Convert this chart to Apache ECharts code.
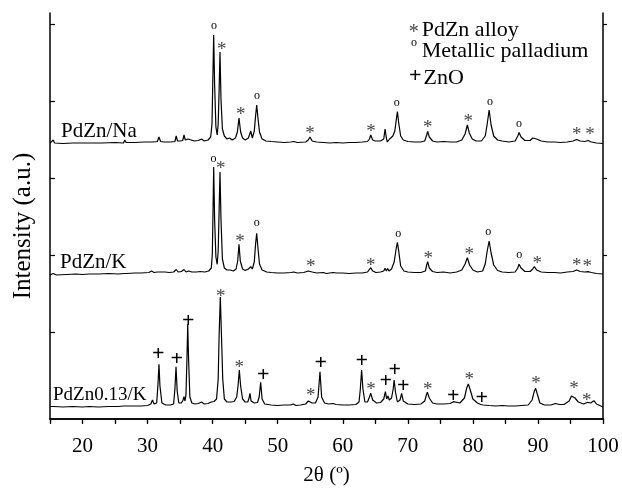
<!DOCTYPE html>
<html>
<head>
<meta charset="utf-8">
<script src="https://cdn.jsdelivr.net/npm/echarts@6/dist/echarts.min.js"></script>
<style>
html,body{margin:0;padding:0;background:#fff;}
#chart{width:622px;height:496px;}
</style>
</head>
<body>
<div id="chart"></div>
<script>
// ---- data (2θ in degrees, intensity in a.u., traces stacked with offsets) ----
const xTicks = [20, 30, 40, 50, 60, 70, 80, 90, 100];

const traceNa = [
[15.0,276],[15.3,276],[15.5,279],[15.7,276],[17,275.5],[18.5,276],[20.5,276],[20.8,278],[21.1,276],[23,276],[25,276.5],[26.3,276],[26.5,279],[26.7,276.5],[28,276.5],[29.5,277],[30.4,277],[30.6,279],[30.8,277],[31.5,277.5],[31.75,282],[32.0,277.5],[32.6,277],[33.5,277],[34.2,277.5],[34.4,283],[34.6,278],[35.0,278],[35.4,278.5],[35.6,284],[35.8,279],[36.2,280],[36.5,278],[37.2,278],[37.8,278.5],[38.3,280],[38.7,278],[39.3,279],[39.7,282],
[39.9,295],[40.0,330],[40.16,384],[40.3,335],[40.5,292],[40.7,284],
[40.85,295],[41.0,330],[41.13,367],[41.28,320],[41.5,290],[41.8,283],[42.2,280],[42.6,281],[43.0,279],[43.5,281],[43.8,287],[44.05,301],[44.3,287],[44.6,281],[45.0,279],[45.5,281],[45.85,288],[46.1,281],[46.4,288],[46.6,303],[46.77,314],[46.95,302],[47.2,287],[47.6,280],[48.2,278],[49,277.5],[50,277],[51,276.5],[52,277],[52.5,277.5],[53,276.5],[54.3,277],[54.7,279],[54.96,282],[55.3,278],[56,277],[57,276.5],[58,276],[59,276.5],[60,276],[61,276.5],[62,276.5],[63,277],[63.8,277.5],[64.1,280],[64.3,284],[64.6,279],[65,278],[65.8,278],[66.3,280],[66.5,290],[66.7,281],[66.85,277],[67.2,280],[67.7,283],[68.0,288],[68.2,298],[68.4,307.5],[68.6,296],[68.9,283],[69.3,279],[70,277.5],[71,277],[72,277],[72.6,278],[72.9,284],[73.05,287.5],[73.3,282],[73.8,278],[74.5,277],[75.5,277.5],[76.5,277],[77.5,277],[78.3,279],[78.8,285],[79.15,294],[79.45,286],[79.9,280],[80.5,278],[81.3,278],[81.9,283],[82.2,295],[82.5,309],[82.8,294],[83.2,283],[83.8,279],[84.5,278],[85.5,277],[86.5,278],[86.9,283],[87.1,286.5],[87.4,282],[88,278.5],[88.8,278.5],[89.2,281],[89.45,283],[89.8,280],[90.5,278],[91.5,277],[92.5,277],[93.5,276.5],[94.5,277],[95.4,278],[95.95,279.5],[96.5,278],[97.2,277.5],[97.7,278.5],[98.2,277],[99,276],[100,275.5]
];

const traceK = [
[15,144],[15.5,145.5],[16,144],[17.5,144.5],[19,145],[20,144.5],[21,145],[22.5,145],[24,145.5],[25.5,145],[26.4,145.5],[26.6,147],[26.8,145.5],[28,146],[29,146],[30.2,146.5],[30.6,148],[31,146.5],[31.5,147],[31.8,149],[32.1,147],[32.7,147],[33.3,146.5],[34,147],[34.4,149.5],[34.7,147],[35.2,147.5],[35.6,149.5],[35.9,147],[36.3,148],[36.8,147],[37.5,147],[38.1,147.5],[38.4,149],[38.8,147],[39.4,148],[39.8,151],
[39.95,165],[40.05,205],[40.16,252],[40.3,200],[40.5,162],[40.7,154.7],[40.85,168],[41.0,210],[41.13,247],[41.28,200],[41.5,160],[41.8,151],[42.2,149],[42.7,149],[43.2,148],[43.6,150],[43.85,158],[44.05,174.7],[44.25,158],[44.6,150],[45.0,148.5],[45.5,150],[45.85,152.3],[46.1,150],[46.4,157],[46.6,175],[46.77,185.7],[46.95,172],[47.2,155],[47.6,149],[48.3,147],[49,146.5],[50,146],[51,146],[52,146.5],[52.5,147],[53,146],[54,146.5],[54.7,148],[54.96,150],[55.3,147],[56,146],[57,146.5],[57.5,145.5],[58.5,146.5],[59,146],[60,146],[61,145.5],[62,146],[63,146],[63.8,147],[64.1,149],[64.3,151.3],[64.6,148],[65.1,146.5],[65.8,147],[66.3,148],[66.5,150.7],[66.7,148],[66.9,150.5],[67.1,148],[67.5,150],[67.9,157],[68.2,170],[68.4,176.7],[68.6,168],[68.9,153],[69.4,148],[70,147],[71,146.5],[72,146.5],[72.7,148],[72.9,154],[73.05,157.3],[73.3,151],[73.8,147.5],[74.5,146.5],[75.5,147],[76.5,146],[77.5,147],[78.3,149],[78.8,155],[79.15,161.3],[79.5,154],[80,149],[80.7,147],[81.5,148],[81.9,155],[82.2,168],[82.5,178],[82.8,166],[83.2,154],[83.8,148.5],[84.5,147],[85.5,146.5],[86.5,147],[86.9,151],[87.1,154.7],[87.4,151],[88,147.5],[88.8,147.5],[89.2,150],[89.45,152.3],[89.8,149],[90.5,147],[91.5,146.5],[92.5,146.5],[93.5,146],[94.5,147],[95.4,147.5],[95.95,149],[96.5,147.5],[97.2,147],[97.7,147.3],[98.2,146.5],[99,145.5],[100,145]
];

const trace013K = [
[15,12.5],[15.3,13.5],[15.6,12.5],[17,12],[18.5,12.5],[20,12],[21,12.5],[22.5,12],[24,12.5],[25.5,12.5],[26.3,13],[26.6,15],[26.9,13],[28,13],[29,13],[30,13.5],[30.5,15],[30.75,19],[31.0,15],[31.4,16],[31.6,35],[31.75,54.7],[31.9,33],[32.2,16],[32.8,14],[33.5,14],[34.0,15],[34.2,30],[34.37,52.3],[34.55,28],[34.8,16],[35.2,16],[35.45,19],[35.6,22.3],[35.75,18],[35.9,24],[36.05,60],[36.17,94.7],[36.3,60],[36.5,22],[36.8,16],[37.3,15],[37.8,15.5],[38.3,17],[38.7,15],[39.3,15.5],[39.8,17],[40.2,17.5],[40.6,20],[40.85,40],[41.0,85],[41.18,122],[41.35,85],[41.55,40],[41.8,20],[42.2,17],[42.8,17],[43.3,17.5],[43.7,22],[43.9,33],[44.1,49],[44.3,33],[44.6,20],[45.0,17],[45.4,17],[45.6,21],[45.74,25.7],[45.9,18],[46.4,16],[46.9,16.5],[47.15,22],[47.38,36.7],[47.6,20],[48,15],[49,14],[50,13.5],[51,14],[52,14],[52.4,15],[52.8,13.5],[53.5,14],[54.3,15],[54.7,18],[54.96,20],[55.3,16],[55.8,16],[56.2,22],[56.5,47.3],[56.75,22],[57.2,16],[57.8,15],[58.5,15.5],[59,14.5],[60,14],[61,14],[62,14.5],[62.5,17],[62.7,30],[62.9,49],[63.1,30],[63.4,17],[63.8,17],[64.1,22],[64.3,25.7],[64.6,19],[65.2,16],[65.8,16.5],[66.3,20],[66.55,27.3],[66.75,20],[66.95,23],[67.15,19],[67.5,21],[67.75,30],[67.9,39],[68.1,27],[68.4,17],[68.8,19],[69.05,25.7],[69.3,18],[70,15],[71,14.5],[72,15],[72.6,18],[72.85,24],[73.0,26.7],[73.3,21],[73.8,16],[74.5,15],[75.5,15],[76.5,15.5],[76.8,17],[77.0,17.3],[77.3,16],[78,16],[78.7,21],[79.05,31],[79.3,35],[79.6,29],[80.0,20],[80.7,16],[81.2,14.5],[81.35,16.5],[81.6,14],[82.5,13.5],[83.5,13],[84.5,13.5],[85.5,13],[86.5,13],[87.5,13.5],[88.5,14],[89.1,19],[89.45,28],[89.65,30.7],[89.9,25],[90.3,16],[91,14],[92,14],[92.7,15.5],[92.97,16.7],[93.3,14.5],[94,14.5],[94.8,18],[95.15,23],[95.35,24],[95.7,21],[96.2,17],[97,15],[97.65,16.7],[98.1,16],[98.6,18.3],[99,15],[99.5,13.5],[100,12]
];

// peak annotations [2θ, intensity]
const markPdO = [  // metallic palladium "o"
[40.21,391.7],[46.82,321.7],[68.29,314.7],[82.63,315.7],[87.09,294],
[40.13,259],[46.77,194.7],[68.53,184],[82.37,185.7],[87.13,163.3]
];
const markAlloy = [ // PdZn alloy "*"
[41.39,373.3],[44.31,308],[54.96,289],[64.34,291.3],[73.05,295],[79.29,301.3],[95.95,288],[98.0,288],
[41.24,254],[44.2,180.7],[55.07,155.7],[64.29,157.3],[73.15,164],[79.45,168],[89.9,159],[95.95,156.7],[97.58,155.7],
[41.24,126.3],[44.1,55],[55.07,27.3],[64.34,33],[73.05,33],[79.45,43],[89.7,39],[95.54,34],[97.49,22.3]
];
const markZnO = [ // ZnO "+"
[31.65,63],[34.47,58.3],[36.26,95.7],[47.78,42.3],[56.61,54],[62.91,56.3],[66.6,36.3],[67.98,47.3],[69.3,30.7],[76.99,21.3],[81.35,19]
];

const traceNames = ['PdZn/Na', 'PdZn/K', 'PdZn0.13/K'];
const legendItems = [['*', 'PdZn alloy'], ['o', 'Metallic palladium'], ['+', 'ZnO']];

const FONT = '"Liberation Serif", "Times New Roman", serif';

const chart = echarts.init(document.getElementById('chart'), null, {renderer: 'canvas'});

function lineSeries(name, data) {
  return {
    name: name, type: 'line', data: data, showSymbol: false, symbol: 'none',
    lineStyle: {color: '#000', width: 1.2}, silent: true, animation: false, z: 3
  };
}
function markSeries(name, data, ch, size, color, weight, dy) {
  return {
    name: name, type: 'scatter', data: data, symbol: 'circle', symbolSize: 2, silent: true, animation: false,
    itemStyle: {color: 'rgba(0,0,0,0)'}, z: 4,
    label: {show: true, position: 'inside', formatter: ch, fontFamily: FONT, fontSize: size,
            color: color, fontWeight: weight, offset: [0, dy], opacity: 1}
  };
}

const tickY = [87, 164, 241, 318, 395];
const axisLine = {show: true, lineStyle: {color: '#000', width: 1.5}};

const option = {
  backgroundColor: '#fff',
  animation: false,
  grid: {left: 50, right: 19, top: 13, bottom: 77, containLabel: false},
  xAxis: [
    {type: 'value', min: 15, max: 100, interval: 5, position: 'bottom',
     axisLine: axisLine, splitLine: {show: false},
     axisTick: {show: true, inside: false, length: 5, lineStyle: {color: '#000', width: 1.2}},
     axisLabel: {show: true, margin: 17, fontFamily: FONT, fontSize: 21, color: '#000',
                 customValues: xTicks, formatter: v => String(v)},
     name: '2θ (º)', nameLocation: 'middle', nameGap: 46,
     nameTextStyle: {fontFamily: FONT, fontSize: 21, color: '#000'}},
    {type: 'value', min: 15, max: 100, interval: 5, position: 'top',
     axisLine: axisLine, splitLine: {show: false},
     axisTick: {show: true, inside: true, length: 4, lineStyle: {color: '#000', width: 1.2}},
     axisLabel: {show: false}}
  ],
  yAxis: [
    {type: 'value', min: 0, max: 406, position: 'left',
     axisLine: axisLine, splitLine: {show: false},
     axisTick: {show: true, inside: true, length: 5, customValues: tickY, lineStyle: {color: '#000', width: 1.2}},
     axisLabel: {show: false}},
    {type: 'value', min: 0, max: 406, position: 'right',
     axisLine: axisLine, splitLine: {show: false},
     axisTick: {show: true, inside: false, length: 4, customValues: tickY, lineStyle: {color: '#000', width: 1.2}},
     axisLabel: {show: false}}
  ],
  series: [
    lineSeries(traceNames[0], traceNa),
    lineSeries(traceNames[1], traceK),
    lineSeries(traceNames[2], trace013K),
    markSeries('Metallic palladium', markPdO, 'o', 12, '#000', 'normal', -1),
    markSeries('PdZn alloy', markAlloy, '*', 19, '#444', 'normal', 4),
    markSeries('ZnO', markZnO, '+', 22, '#000', 'bold', -1.5)
  ],
  graphic: [
    {type: 'text', x: 23, y: 226, rotation: Math.PI / 2,
     style: {text: 'Intensity (a.u.)', font: '25px ' + FONT, fill: '#000', align: 'center', verticalAlign: 'middle'}},
    {type: 'text', left: 61, top: 121, style: {text: traceNames[0], font: '21px ' + FONT, fill: '#000'}},
    {type: 'text', left: 60, top: 252, style: {text: traceNames[1], font: '21px ' + FONT, fill: '#000'}},
    {type: 'text', left: 53, top: 386, style: {text: traceNames[2], font: '19px ' + FONT, fill: '#000'}},
    {type: 'text', x: 413.7, y: 33, style: {text: legendItems[0][0], font: '20px ' + FONT, fill: '#444', align: 'center', verticalAlign: 'middle'}},
    {type: 'text', x: 421.7, y: 30, style: {text: legendItems[0][1], font: '22px ' + FONT, fill: '#000', align: 'left', verticalAlign: 'middle'}},
    {type: 'text', x: 414, y: 42.5, style: {text: legendItems[1][0], font: '12px ' + FONT, fill: '#000', align: 'center', verticalAlign: 'middle'}},
    {type: 'text', x: 421.7, y: 51, style: {text: legendItems[1][1], font: '22px ' + FONT, fill: '#000', align: 'left', verticalAlign: 'middle'}},
    {type: 'text', x: 415.3, y: 76, style: {text: legendItems[2][0], font: 'bold 22px ' + FONT, fill: '#000', align: 'center', verticalAlign: 'middle'}},
    {type: 'text', x: 423.5, y: 78, style: {text: legendItems[2][1], font: '22px ' + FONT, fill: '#000', align: 'left', verticalAlign: 'middle'}}
  ]
};
chart.setOption(option);
</script>
</body>
</html>
